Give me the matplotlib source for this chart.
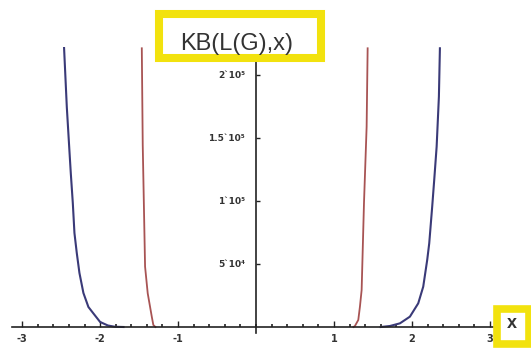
import matplotlib.pyplot as plt
from matplotlib.patches import Rectangle
from matplotlib.ticker import MultipleLocator

# curves (x, KB value)
blue_left_x = [-2.462, -2.427, -2.394, -2.376, -2.35, -2.329, -2.299, -2.265, -2.214,
               -2.15, -2.09, -2.0, -1.9, -1.81, -1.7]
blue_left_y = [221400, 174600, 140500, 122200, 98400, 74600, 58700, 42900, 27000,
               15900, 11100, 4000, 1200, 200, 0]

blue_right_x = [1.6, 1.718, 1.846, 1.974, 2.081, 2.145, 2.196, 2.222, 2.26, 2.286,
                2.317, 2.346, 2.359]
blue_right_y = [0, 800, 2900, 8200, 18800, 32000, 53200, 66400, 95500, 116700,
                143100, 182800, 221200]

red_left_x = [-1.465, -1.453, -1.423, -1.389, -1.337, -1.317, -1.29]
red_left_y = [221200, 144400, 47900, 26700, 8200, 1600, 0]

red_right_x = [1.25, 1.269, 1.312, 1.333, 1.355, 1.385, 1.419, 1.432]
red_right_y = [0, 800, 5600, 16100, 29400, 98200, 159000, 221200]

xticks = [-3, -2, -1, 1, 2, 3]
yticks = [50000, 100000, 150000, 200000]
ytick_labels = ['5`10⁴', '1`10⁵', '1.5`10⁵', '2`10⁵']

blue = '#3a3a78'
red = '#a85454'
yellow = '#f2e20e'

W, H = 531, 350
fig = plt.figure(figsize=(W / 100, H / 100), dpi=100)
fig.patch.set_facecolor('white')

ax = fig.add_axes([12 / W, 1 - 333 / H, 481 / W, 286 / H])
ax.set_xlim(-3.13, 3.04)
ax.set_ylim(-4762, 222222)

ax.plot(blue_left_x, blue_left_y, color=blue, lw=1.5)
ax.plot(blue_right_x, blue_right_y, color=blue, lw=1.5)
ax.plot(red_left_x, red_left_y, color=red, lw=1.3)
ax.plot(red_right_x, red_right_y, color=red, lw=1.3)

for s in ['top', 'right']:
    ax.spines[s].set_visible(False)
ax.spines['left'].set_position(('data', 0))
ax.spines['bottom'].set_position(('data', 0))
for s in ['left', 'bottom']:
    ax.spines[s].set_color('#222222')
    ax.spines[s].set_linewidth(1.2)

ax.set_xticks(xticks)
ax.set_xticklabels([str(t) for t in xticks])
ax.xaxis.set_minor_locator(MultipleLocator(0.2))
ax.set_yticks(yticks)
ax.set_yticklabels(ytick_labels)

ax.tick_params(axis='x', which='major', direction='in', length=4, width=1,
               labelsize=7, colors='#222222', pad=5)
ax.tick_params(axis='x', which='minor', direction='in', length=2, width=1.2,
               colors='#222222')
ax.tick_params(axis='y', which='major', direction='in', length=3, width=1,
               labelsize=6.5, colors='#222222', pad=8)
for lab in ax.get_xticklabels() + ax.get_yticklabels():
    lab.set_color('#333333')
    lab.set_fontweight('bold')
ax.set_facecolor('white')

# yellow label boxes
fig.patches.append(Rectangle((159 / W, 1 - 58 / H), 162 / W, 44 / H, transform=fig.transFigure,
                             fc='white', ec=yellow, lw=5.8, zorder=5))
fig.text(237 / W, 1 - 50 / H, 'KB(L(G),x)', fontsize=17, family='Liberation Sans',
         color='#333333', ha='center', va='baseline', zorder=6)

fig.patches.append(Rectangle((497 / W, 1 - 344 / H), 32 / W, 35 / H, transform=fig.transFigure,
                             fc='white', ec=yellow, lw=5.5, zorder=5))
fig.text(512 / W, 1 - 323 / H, 'x', fontsize=13, family='Liberation Sans', fontweight='bold',
         color='#333333', ha='center', va='center', zorder=6)

fig.savefig('out.png', dpi=100)
